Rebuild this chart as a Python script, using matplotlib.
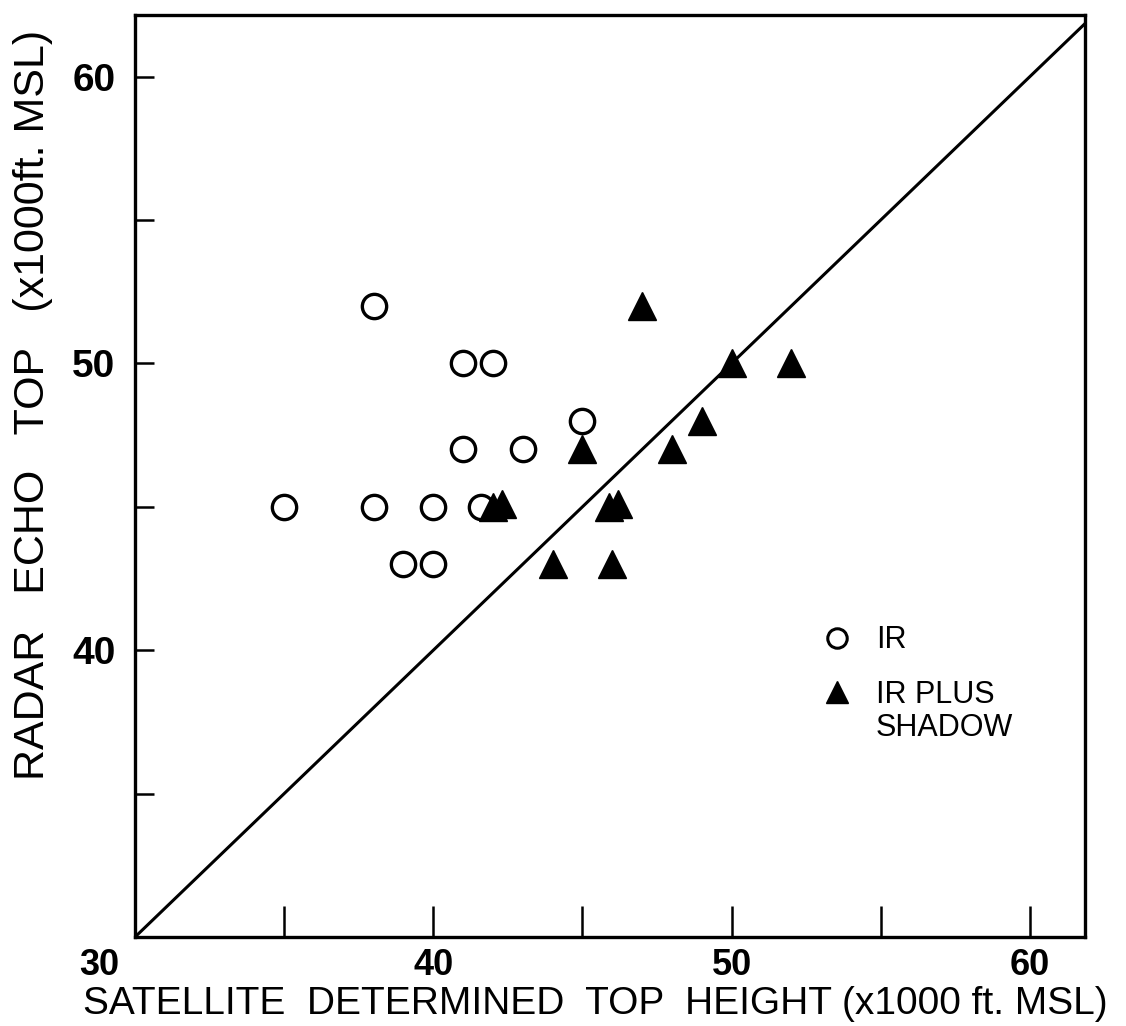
"""Radar echo top vs satellite determined top height."""

import matplotlib
matplotlib.use("Agg")
import matplotlib.pyplot as plt
from matplotlib.lines import Line2D
import matplotlib.transforms as mtransforms

# IR only estimates (x1000 ft MSL)
ir_sat = [35, 38, 38, 39, 40, 40, 41, 41, 41.6, 42, 43, 45]
ir_radar = [45, 52, 45, 43, 43, 45, 50, 47, 45, 50, 47, 48]

# IR plus shadow estimates
shadow_sat = [42.0, 42.3, 44, 45, 45.9, 46.2, 46, 47, 48, 49, 50, 52]
shadow_radar = [45, 45.1, 43, 47, 45, 45.1, 43, 52, 47, 48, 50, 50]

ticks = [30, 35, 40, 45, 50, 55, 60]
tick_labels = ["30", "", "40", "", "50", "", "60"]
ytick_labels = ["", "", "40", "", "50", "", "60"]

plt.rcParams['font.family'] = ['Liberation Sans Narrow', 'Liberation Sans', 'DejaVu Sans']
wide = ['Liberation Sans', 'DejaVu Sans']

fig = plt.figure(figsize=(11.26, 10.26), dpi=100)
ax = fig.add_axes([0.1199, 0.0867, 0.8437, 0.8987])

# one-to-one line
ax.plot([30, 62.2], [30, 62.2], color="black", linewidth=2.2, zorder=1)

ax.plot(ir_sat, ir_radar, linestyle="none", marker="o", markersize=17.5,
        markerfacecolor="white", markeredgecolor="black", markeredgewidth=2.4,
        zorder=2, label="IR")
ax.plot(shadow_sat, shadow_radar, linestyle="none", marker="^", markersize=19.5,
        color="black", zorder=3, label="IR PLUS")

ax.set_xlim(30, 61.85)
ax.set_ylim(30, 62.15)
ax.set_xticks(ticks)
ax.set_xticklabels(tick_labels, fontsize=26, fontweight="bold", family=wide)
ax.set_yticks(ticks)
ax.set_yticklabels(ytick_labels, fontsize=28, fontweight="bold", family=wide)
ax.tick_params(axis="x", direction="in", length=22, width=1.8, pad=8)
ax.tick_params(axis="y", direction="in", length=14, width=1.8, pad=14)

# the "30" on the x axis sits left of the corner
lab30 = ax.get_xticklabels()[0]
lab30.set_transform(lab30.get_transform() +
                    mtransforms.ScaledTranslation(-36 / 100, 0, fig.dpi_scale_trans))

for s in ax.spines.values():
    s.set_linewidth(2.4)

ax.set_xlabel("SATELLITE  DETERMINED  TOP  HEIGHT (x1000 ft. MSL)", fontsize=28)
ax.xaxis.label.set_verticalalignment("baseline")
ax.xaxis.set_label_coords(0.485, -0.0835)
ax.set_ylabel("RADAR   ECHO   TOP   (x1000ft. MSL)", fontsize=31)
ax.yaxis.set_label_coords(-0.086, 0.577)

handles = [
    Line2D([], [], linestyle="none", marker="o", markersize=14, markerfacecolor="white",
           markeredgecolor="black", markeredgewidth=2.2),
    Line2D([], [], linestyle="none", marker="^", markersize=16, color="black"),
]
ax.legend(handles, ["IR", "IR PLUS"], loc="center left", bbox_to_anchor=(0.723, 0.2923),
          frameon=False, prop={"family": wide, "size": 22}, handletextpad=0.76,
          labelspacing=0.8, handlelength=1.0, borderaxespad=0, borderpad=0)
ax.text(0.780, 0.2267, "SHADOW", transform=ax.transAxes, fontsize=22, family=wide,
        va="center")

plt.savefig("out.png", dpi=100)
